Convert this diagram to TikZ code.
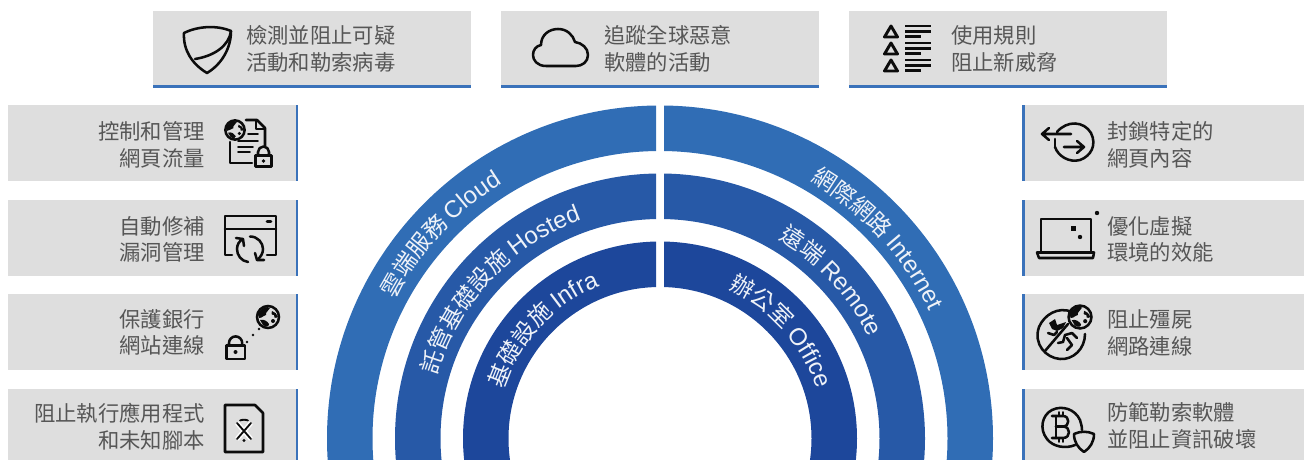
\documentclass[tikz,border=0pt]{standalone}
\usepackage{fontspec}
\usetikzlibrary{decorations.text,arrows.meta}
\newfontfamily\cjkf{Noto Sans CJK TC}
\newfontfamily\latf{Liberation Sans}
\definecolor{boxgray}{HTML}{DEDEDE}
\definecolor{strip}{HTML}{3A72BA}
\definecolor{txtgray}{HTML}{565656}
\definecolor{ringa}{HTML}{306DB5}
\definecolor{ringb}{HTML}{2759A7}
\definecolor{ringc}{HTML}{1D479B}
\definecolor{ringtxt}{HTML}{EEF2F8}
\definecolor{ico}{HTML}{0C0C0C}
\newcommand\cjr{\cjkf\fontsize{17.4}{20}\selectfont\color{ringtxt}}
\newcommand\ltr{\latf\fontsize{18}{20}\selectfont\color{ringtxt}}
\tikzset{
  grayb/.style={fill=boxgray,draw=none},
  stripb/.style={fill=strip,draw=none},
  lblr/.style={anchor=east,align=right,inner sep=0pt,text=txtgray,font=\cjkf\fontsize{16}{19.8}\selectfont},
  lbll/.style={anchor=west,align=left,inner sep=0pt,text=txtgray,font=\cjkf\fontsize{16}{19.8}\selectfont},
  icon/.style={draw=ico,line width=1.9pt,fill=none,line cap=round,line join=round},
  iconthin/.style={draw=ico,line width=1.4pt,fill=none,line cap=round,line join=round},
}
\newcommand\gglobe[3]{%
  \begin{scope}[shift={(#1,#2)},scale=#3/12]
    \draw[ico,line width=1.9pt] (0,0) circle[radius=11];
    \fill[ico] (-10,-3) .. controls (-6,-10) and (-1,-11) .. (2,-9) .. controls (1,-6) and (-3,-5) .. (-2,-2) .. controls (-5,-2) and (-5,1) .. (-9,1) -- cycle;
    \fill[ico] (-8,3) .. controls (-4,2) and (-1,4) .. (1,7) .. controls (1,10) and (-2,10) .. (-5,8) -- cycle;
    \fill[ico] (4,-6) .. controls (7,-5) and (9,-3) .. (10,0) .. controls (7,2) and (5,0) .. (6,-2) .. controls (3,-2) and (3,-4) .. (4,-6) -- cycle;
    \fill[ico] (5,4) circle[radius=2];
  \end{scope}}
\begin{document}
\begin{tikzpicture}[x=.75pt,y=-.75pt]
\useasboundingbox (0,0) rectangle (1304,460);

% ---------- rings
\begin{scope}
\clip (0,0) rectangle (656,460);
\fill[ringa,even odd rule] (660,438.5) circle[radius=333] (660,438.5) circle[radius=287.5];
\fill[ringb,even odd rule] (660,438.5) circle[radius=265] (660,438.5) circle[radius=219.5];
\fill[ringc,even odd rule] (660,438.5) circle[radius=197] (660,438.5) circle[radius=151.5];
\end{scope}
\begin{scope}
\clip (664,0) rectangle (1304,460);
\fill[ringa,even odd rule] (660,438.5) circle[radius=333] (660,438.5) circle[radius=287.5];
\fill[ringb,even odd rule] (660,438.5) circle[radius=265] (660,438.5) circle[radius=219.5];
\fill[ringc,even odd rule] (660,438.5) circle[radius=197] (660,438.5) circle[radius=151.5];
\end{scope}
\begin{scope}[shift={(660,438.5)},y=.75pt]
\newcommand\ringlabel[3]{%
  \pgfmathsetmacro\aS{#1+45}\pgfmathsetmacro\aE{#1-45}\pgfmathsetmacro\rr{#2*.75}%
  \path[decorate,decoration={text along path,text align=center,text={#3}}]
    (\aS:#2) arc[start angle=\aS,end angle=\aE,radius=\rr pt];}
\ringlabel{137}{300}{|\cjr|雲端服務 |\ltr|Cloud}
\ringlabel{137}{232}{|\cjr|託管基礎設施 |\ltr|Hosted}
\ringlabel{137}{164}{|\cjr|基礎設施 |\ltr|Infra}
\ringlabel{42.5}{298}{|\cjr|網際網路 |\ltr|Internet}
\ringlabel{42.5}{232}{|\cjr|遠端 |\ltr|Remote}
\ringlabel{41.5}{164}{|\cjr|辦公室 |\ltr|Office}
\end{scope}

% ---------- top boxes
\foreach \xa/\xb in {153/471,501/819,849/1167}{
  \fill[grayb] (\xa,11) rectangle (\xb,85);
  \fill[stripb] (\xa,85) rectangle (\xb,88);
}
% ---------- left boxes
\foreach \ya/\yb in {105/181,200/276,294/370,389/460}{
  \fill[grayb] (8,\ya) rectangle (296,\yb);
  \fill[stripb] (295.5,\ya) rectangle (298,\yb);
}
% ---------- right boxes
\foreach \ya/\yb in {105/181,200/276,294/370,389/460}{
  \fill[grayb] (1023,\ya) rectangle (1304,\yb);
  \fill[stripb] (1022,\ya) rectangle (1024.5,\yb);
}

% ---------- labels
\node[lbll] (t1) at (246,49) {檢測並阻止可疑\\活動和勒索病毒};
\node[lbll] (t2) at (604,49) {追蹤全球惡意\\軟體的活動};
\node[lbll] (t3) at (951,49) {使用規則\\阻止新威脅};
\node[lblr] (l1) at (205,145) {控制和管理\\網頁流量};
\node[lblr] (l2) at (205,239.5) {自動修補\\漏洞管理};
\node[lblr] (l3) at (205,332.5) {保護銀行\\網站連線};
\node[lblr] (l4) at (205,426.5) {阻止執行應用程式\\和未知腳本};
\node[lbll] (r1) at (1107,145) {封鎖特定的\\網頁內容};
\node[lbll] (r2) at (1107,239.5) {優化虛擬\\環境的效能};
\node[lbll] (r3) at (1107,333) {阻止殭屍\\網路連線};
\node[lbll] (r4) at (1107,426) {防範勒索軟體\\並阻止資訊破壞};

% ---------- top icons
% shield
\draw[icon] (184,33) .. controls (198,26) and (217,25) .. (231,31) .. controls (231,48) and (222,64) .. (207,73) .. controls (192,64) and (183,50) .. (184,33) -- cycle;
\draw[icon] (231,31) .. controls (229,46) and (214,56) .. (195,59);
% cloud
\draw[icon] (546,66) .. controls (537,66) and (533,60) .. (533,55) .. controls (533,50) and (536,46) .. (541,45) .. controls (541,35) and (549,29) .. (558,29) .. controls (567,29) and (573,35) .. (575,42) .. controls (582,43) and (588,48) .. (588,55) .. controls (588,62) and (582,66) .. (576,66) -- cycle;
% rule list
\foreach \yy in {0,17,34}{
  \draw[ico,line width=2.2pt,line join=round] (884.5,37+\yy) -- (891,26+\yy) -- (897.5,37+\yy) -- cycle;
  \draw[ico,line width=2.2pt] (905,26+\yy) -- (931,26+\yy);
  \draw[ico,line width=2.2pt] (905,31.5+\yy) -- (931,31.5+\yy);
  \draw[ico,line width=2.2pt] (905,36.5+\yy) -- (921,36.5+\yy);
}

% ---------- left icons
% globe + doc + lock
\gglobe{235}{130}{10.5}
\draw[icon] (246,120) -- (257,120) -- (265,128) -- (265,146);
\draw[iconthin] (256,121) -- (256,129) -- (264,129);
\draw[iconthin] (248,134) -- (258,134);
\draw[iconthin] (238,141) -- (258,141) (238,147) -- (253,147) (238,152) -- (250,152);
\draw[icon] (230,142) -- (230,163) -- (252,163);
\draw[icon] (255.5,155.5) rectangle (271.5,166.5);
\draw[icon] (258,155.5) -- (258,152) arc[start angle=180,end angle=360,radius=5.5] -- (269,155.5);
\fill[ico] (263.5,161) circle[radius=1.8];
% window with refresh
\draw[icon] (232,255) -- (225,255) -- (225,216) -- (276,216) -- (276,255) -- (267,255);
\draw[icon] (225,229) -- (276,229);
\draw[icon,line width=2.2pt] (267,221.5) -- (271,221.5);
\draw[icon] (248,262) .. controls (241,261) and (237,255) .. (237,249) .. controls (237,245) and (239,241) .. (243,239);
\draw[icon] (236,238) -- (243,239) -- (244,246);
\draw[icon] (250,236.5) .. controls (258,236.5) and (263,243) .. (263,249) .. controls (263,253) and (261,257) .. (257,260);
\draw[icon] (264,260) -- (257,260) -- (255,253);
% lock and globe
\gglobe{268}{317}{12}
\draw[icon] (226.5,345.5) rectangle (245,359);
\draw[icon] (229,345) -- (229,343) arc[start angle=180,end angle=360,radius=6.6] -- (242.2,345);
\fill[ico] (235.5,352) circle[radius=2];
\fill[ico] (247,342) circle[radius=1.4] (253,335) circle[radius=1.4] (259,329) circle[radius=1.4];
% file with X
\draw[icon] (225,405) -- (255,405) -- (263,413) -- (263,452) -- (225,452) -- cycle;
\draw[white,line width=3.6pt] (237,423) -- (251,439) (251,423) -- (237,439);
\draw[iconthin] (237,423) -- (251,439) (251,423) -- (237,439);
\draw[iconthin] (240,420.5) .. controls (242,419.5) and (246,419.5) .. (248,420.5);
\fill[ico] (244,440.5) circle[radius=1.7];

% ---------- right icons
% arrows in circle
\draw[icon] (1057,132) .. controls (1067,120) and (1084,121) .. (1091,133) .. controls (1097,145) and (1091,156) .. (1080,160) .. controls (1069,163) and (1058,156) .. (1055,147);
\draw[icon] (1071,134) -- (1043,134) (1049,128) -- (1042,134) -- (1049,140);
\draw[icon] (1064,147) -- (1083,147) (1077,141) -- (1084,147) -- (1077,153);
\draw[icon] (1055,139) -- (1055,147);
% laptop
\draw[icon] (1041,251) -- (1041,219) -- (1091,219) -- (1091,251);
\draw[icon] (1037,252.5) -- (1094,252.5) -- (1093,258) -- (1039,258) -- cycle;
\fill[ico] (1070.5,225.5) rectangle (1076,231);
\fill[ico] (1080,237) circle[radius=2.2];
\fill[ico] (1097,213) circle[radius=2.2];
% botnet
\draw[icon] (1072,312) .. controls (1058,306) and (1044,315) .. (1039,327) .. controls (1033,344) and (1046,358) .. (1060,359) .. controls (1073,360) and (1085,349) .. (1085,334);
\draw[icon] (1045,351) -- (1068,324);
\gglobe{1080}{317}{12.5}
\fill[ico] (1049,323) -- (1055,319) -- (1057,325) -- (1066,322) -- (1063,328) -- (1057,331) -- (1052,329) -- cycle;
\draw[icon] (1048,333) -- (1054,335) -- (1057,332);
\draw[icon] (1058,343) -- (1063,342) -- (1065,335) -- (1072,333) -- (1077,338);
\draw[icon] (1067,338) -- (1072,345) -- (1067,350);
% bitcoin + shield
\draw[icon] (1075,445) .. controls (1066,449) and (1053,447) .. (1047,439) .. controls (1039,429) and (1042,415) .. (1052,410) .. controls (1062,405) and (1075,409) .. (1080,420) .. controls (1081,424) and (1082,426) .. (1082,430);
\draw[icon] (1056,416) -- (1056,438);
\draw[icon] (1052,416) -- (1063,416) .. controls (1070,416) and (1070,426.5) .. (1063,426.5) -- (1056,426.5) (1063,426.5) .. controls (1071,426.5) and (1071,438) .. (1063,438) -- (1052,438);
\draw[iconthin] (1059,412) -- (1059,416) (1063,412) -- (1063,416) (1059,438) -- (1059,442) (1063,438) -- (1063,442);
\draw[icon] (1074,434) .. controls (1080,431) and (1088,431) .. (1094,434) .. controls (1094,442) and (1090,448) .. (1084,452) .. controls (1078,448) and (1074,442) .. (1074,434) -- cycle;
\end{tikzpicture}
\end{document}
